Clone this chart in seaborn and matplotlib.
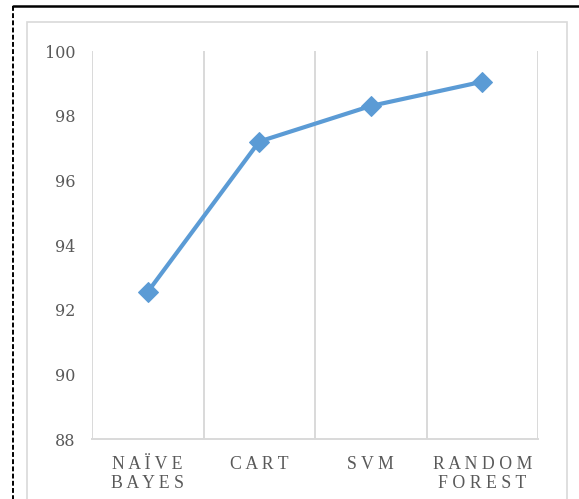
import matplotlib
matplotlib.use("Agg")
import matplotlib.pyplot as plt
from matplotlib.lines import Line2D
from matplotlib.patches import Rectangle
from matplotlib.ticker import FixedLocator, MultipleLocator
import seaborn as sns
import pandas as pd

# Classifier accuracy (%)
models = ["NAÏVE\nBAYES", "CART", "SVM", "RANDOM\nFOREST"]
accuracy = [92.55, 97.2, 98.3, 99.05]
y_ticks = [88, 90, 92, 94, 96, 98, 100]

df = pd.DataFrame({"model": models, "accuracy": accuracy})

sns.set_theme(style="white")
plt.rcParams["font.family"] = ["Liberation Serif", "DejaVu Serif"]

fig = plt.figure(figsize=(5.79, 4.99), dpi=100)
ax = fig.add_axes([92 / 579, 1 - 439 / 499, (538 - 92) / 579, (439 - 51) / 499])

blue = "#5B9BD5"
sns.lineplot(data=df, x="model", y="accuracy", ax=ax, color=blue,
             linewidth=3.0, marker="D", markersize=10,
             markeredgecolor=blue, markerfacecolor=blue, sort=False)

ax.set_xlim(-0.5, len(models) - 0.5)
ax.set_ylim(88, 100)
ax.yaxis.set_major_locator(FixedLocator(y_ticks))
ax.set_yticklabels([str(t) for t in y_ticks], family=["DejaVu Serif"])

# Letter-spaced category labels
spaced = ["\n".join(" ".join(word) for word in m.split("\n")) for m in models]
ax.set_xticks(range(len(models)))
ax.set_xticklabels(spaced, linespacing=1.2)

# Vertical gridlines at category boundaries
ax.xaxis.set_minor_locator(MultipleLocator(1, offset=0.5))
ax.grid(False)
ax.grid(which="minor", axis="x", color="#D9D9D9", linewidth=1.4)
ax.set_xlabel("")
ax.set_ylabel("")

for side in ["top", "right", "left"]:
    ax.spines[side].set_visible(False)
ax.spines["bottom"].set_color("#D9D9D9")
ax.spines["bottom"].set_linewidth(1.4)

ax.tick_params(axis="both", which="both", length=0)
ax.tick_params(axis="y", labelsize=11.5, labelcolor="#595959", pad=12)
ax.tick_params(axis="x", labelsize=12.8, labelcolor="#595959", pad=12)
for lbl in ax.get_xticklabels():
    lbl.set_x(lbl.get_position()[0])

# Chart area frame
fig.patches.append(Rectangle((26.5 / 579, -0.05), (567 - 26.5) / 579, 1.05 - 22 / 499,
                             transform=fig.transFigure, fill=False,
                             edgecolor="#D9D9D9", linewidth=1.2, zorder=0))

# Outer border: solid top, dashed left
fig.lines.append(Line2D([12.7 / 579, 1.0], [1 - 5.5 / 499, 1 - 5.5 / 499],
                        transform=fig.transFigure, color="black", linewidth=1.8))
fig.lines.append(Line2D([12.7 / 579, 12.7 / 579], [1 - 5.5 / 499, 0.0],
                        transform=fig.transFigure, color="black", linewidth=1.4,
                        linestyle=(0, (2.5, 1.2))))

fig.savefig("out.png", dpi=100)
